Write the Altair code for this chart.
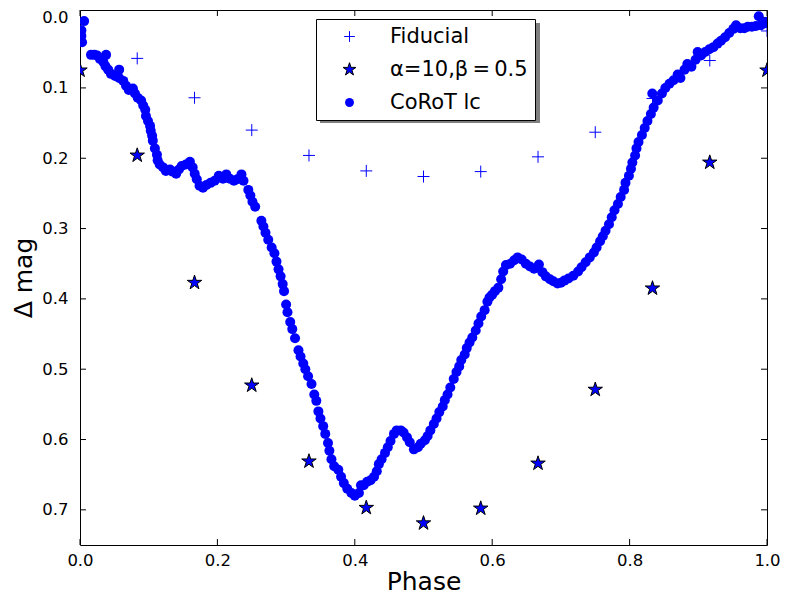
import altair as alt
import pandas as pd

# ---------------- data ----------------
series_names = ["Fiducial", "α=10,β\u2009=\u20090.5", "CoRoT lc"]

grid_phase = [0.0, 0.0833, 0.1667, 0.25, 0.3333, 0.4167, 0.5,
              0.5833, 0.6667, 0.75, 0.8333, 0.9167, 1.0]
fiducial_mag = [0.020, 0.058, 0.114, 0.160, 0.196, 0.218, 0.226,
                0.219, 0.198, 0.163, 0.115, 0.061, 0.019]
model_mag = [0.075, 0.196, 0.377, 0.523, 0.631, 0.697, 0.719,
             0.698, 0.634, 0.529, 0.385, 0.206, 0.075]

corot_phase = [
    0.006, 0.002, 0.002, 0.003, 0.016, 0.021, 0.025, 0.029, 0.034, 0.038,
    0.037, 0.041, 0.045, 0.051, 0.057, 0.057, 0.063, 0.067, 0.071, 0.077,
    0.080, 0.084, 0.089, 0.092, 0.095, 0.096, 0.099, 0.102, 0.103, 0.105,
    0.106, 0.109, 0.112, 0.113, 0.116, 0.121, 0.125, 0.131, 0.135, 0.140,
    0.144, 0.148, 0.154, 0.160, 0.164, 0.167, 0.170, 0.174, 0.179, 0.184,
    0.190, 0.196, 0.202, 0.208, 0.213, 0.218, 0.224, 0.229, 0.235, 0.238,
    0.245, 0.248, 0.251, 0.255, 0.264, 0.267, 0.270, 0.274, 0.279, 0.283,
    0.286, 0.289, 0.292, 0.295, 0.297, 0.300, 0.302, 0.306, 0.309, 0.313,
    0.318, 0.321, 0.325, 0.328, 0.332, 0.337, 0.341, 0.344, 0.347, 0.350,
    0.354, 0.357, 0.361, 0.363, 0.366, 0.370, 0.376, 0.380, 0.384, 0.389,
    0.395, 0.400, 0.406, 0.409, 0.413, 0.418, 0.423, 0.428, 0.432, 0.435,
    0.439, 0.444, 0.448, 0.452, 0.457, 0.461, 0.467, 0.471, 0.476, 0.480,
    0.486, 0.492, 0.496, 0.502, 0.506, 0.510, 0.515, 0.519, 0.523, 0.528,
    0.531, 0.535, 0.539, 0.544, 0.548, 0.552, 0.555, 0.560, 0.563, 0.567,
    0.571, 0.576, 0.580, 0.584, 0.589, 0.593, 0.596, 0.600, 0.604, 0.609,
    0.613, 0.616, 0.620, 0.626, 0.632, 0.637, 0.643, 0.649, 0.655, 0.661,
    0.668, 0.673, 0.678, 0.684, 0.689, 0.695, 0.700, 0.705, 0.711, 0.718,
    0.725, 0.730, 0.736, 0.742, 0.748, 0.752, 0.757, 0.761, 0.765, 0.770,
    0.774, 0.778, 0.783, 0.787, 0.792, 0.794, 0.799, 0.802, 0.804, 0.808,
    0.810, 0.813, 0.818, 0.822, 0.826, 0.831, 0.835, 0.833, 0.841, 0.847,
    0.852, 0.858, 0.864, 0.870, 0.874, 0.880, 0.884, 0.890, 0.896, 0.899,
    0.904, 0.910, 0.916, 0.922, 0.928, 0.933, 0.939, 0.945, 0.951, 0.955,
    0.961, 0.967, 0.972, 0.978, 0.984, 0.988, 0.991, 0.997, 1.000,
]
corot_mag = [
    0.005, 0.018, 0.026, 0.035, 0.053, 0.053, 0.054, 0.059, 0.063, 0.053,
    0.069, 0.074, 0.080, 0.083, 0.074, 0.086, 0.090, 0.097, 0.103, 0.101,
    0.108, 0.114, 0.118, 0.125, 0.131, 0.140, 0.147, 0.154, 0.161, 0.168,
    0.175, 0.186, 0.195, 0.203, 0.209, 0.213, 0.218, 0.216, 0.219, 0.222,
    0.216, 0.211, 0.209, 0.205, 0.213, 0.222, 0.230, 0.239, 0.242, 0.238,
    0.235, 0.232, 0.225, 0.229, 0.223, 0.229, 0.232, 0.230, 0.223, 0.232,
    0.245, 0.253, 0.262, 0.269, 0.289, 0.297, 0.306, 0.316, 0.327, 0.335,
    0.347, 0.358, 0.368, 0.379, 0.389, 0.408, 0.419, 0.433, 0.443, 0.456,
    0.473, 0.482, 0.492, 0.500, 0.510, 0.521, 0.536, 0.545, 0.560, 0.570,
    0.581, 0.592, 0.605, 0.616, 0.628, 0.638, 0.643, 0.653, 0.662, 0.670,
    0.676, 0.680, 0.676, 0.665, 0.665, 0.660, 0.658, 0.653, 0.645, 0.635,
    0.628, 0.619, 0.611, 0.602, 0.592, 0.587, 0.587, 0.590, 0.597, 0.604,
    0.614, 0.611, 0.606, 0.601, 0.595, 0.587, 0.578, 0.570, 0.561, 0.553,
    0.544, 0.536, 0.526, 0.514, 0.504, 0.496, 0.487, 0.479, 0.470, 0.462,
    0.455, 0.445, 0.435, 0.425, 0.416, 0.404, 0.398, 0.394, 0.389, 0.384,
    0.372, 0.361, 0.352, 0.350, 0.345, 0.341, 0.344, 0.350, 0.354, 0.357,
    0.351, 0.362, 0.368, 0.372, 0.375, 0.378, 0.377, 0.374, 0.371, 0.367,
    0.361, 0.355, 0.348, 0.341, 0.334, 0.327, 0.318, 0.311, 0.303, 0.294,
    0.284, 0.274, 0.265, 0.255, 0.245, 0.235, 0.225, 0.215, 0.206, 0.196,
    0.186, 0.177, 0.167, 0.157, 0.147, 0.137, 0.128, 0.108, 0.118, 0.108,
    0.100, 0.094, 0.089, 0.081, 0.086, 0.074, 0.066, 0.070, 0.060, 0.049,
    0.054, 0.049, 0.045, 0.042, 0.037, 0.033, 0.028, 0.022, 0.016, 0.011,
    0.015, 0.015, 0.013, 0.013, 0.012, -0.002, 0.011, 0.008, 0.006,
]

x_tick_values = [0.0, 0.2, 0.4, 0.6, 0.8, 1.0]
y_tick_values = [0.0, 0.1, 0.2, 0.3, 0.4, 0.5, 0.6, 0.7]

# ---------------- build table ----------------
rows = []
for p, m in zip(grid_phase, fiducial_mag):
    rows.append({"phase": p, "mag": m, "series": series_names[0]})
for p, m in zip(grid_phase, model_mag):
    rows.append({"phase": p, "mag": m, "series": series_names[1]})
for p, m in zip(corot_phase, corot_mag):
    rows.append({"phase": p, "mag": m, "series": series_names[2]})
df = pd.DataFrame(rows)

W, H = 687, 535
FONT = "DejaVu Sans"
BLUE = "#0000ff"
PLUS = "M-1.2,0H1.2M0,-1.2V1.2"
STAR = ("M0,-1.52L0.342,-0.47L1.446,-0.47L0.552,0.179L0.894,1.23L0,0.581"
        "L-0.894,1.23L-0.552,0.179L-1.446,-0.47L-0.342,-0.47Z")

xscale = alt.Scale(domain=[0, 1], nice=False, zero=False)
yscale = alt.Scale(domain=[-0.0108, 0.75], reverse=True, nice=False, zero=False)

xaxis = alt.Axis(values=x_tick_values, format=".1f", title="Phase", ticks=False,
                 domain=False, grid=False, labelFlush=False, labelOverlap=False,
                 labelPadding=7, titlePadding=1, labelFontSize=16.5,
                 titleFontSize=25, labelFont=FONT, titleFont=FONT,
                 titleFontWeight="normal", labelColor="black", titleColor="black")
yaxis = alt.Axis(values=y_tick_values, format=".1f", title="Δ mag", ticks=False,
                 domain=False, grid=False, labelFlush=False, labelOverlap=False,
                 labelPadding=12, titlePadding=5, labelFontSize=16.5,
                 titleFontSize=25, labelFont=FONT, titleFont=FONT,
                 titleFontWeight="normal", labelColor="black", titleColor="black")

points = alt.Chart(df).mark_point(
    size=100, opacity=1, fillOpacity=1, strokeOpacity=1, strokeWidth=1, clip=True
).encode(
    x=alt.X("phase:Q", scale=xscale, axis=xaxis),
    y=alt.Y("mag:Q", scale=yscale, axis=yaxis),
    shape=alt.Shape("series:N", title=None,
                    scale=alt.Scale(domain=series_names, range=[PLUS, STAR, "circle"])),
    fill=alt.Fill("series:N", title=None,
                  scale=alt.Scale(domain=series_names, range=[BLUE, BLUE, BLUE])),
    stroke=alt.Stroke("series:N", title=None,
                      scale=alt.Scale(domain=series_names,
                                      range=[BLUE, "#000000", "transparent"])),
)

xt = pd.DataFrame({"phase": x_tick_values})
yt = pd.DataFrame({"mag": y_tick_values})
TL = 6
xt_bottom = alt.Chart(xt).mark_rule(color="black", strokeWidth=1).encode(
    x=alt.X("phase:Q", scale=xscale, axis=xaxis), y=alt.value(H - TL), y2=alt.value(H))
xt_top = alt.Chart(xt).mark_rule(color="black", strokeWidth=1).encode(
    x=alt.X("phase:Q", scale=xscale, axis=xaxis), y=alt.value(0), y2=alt.value(TL))
yt_left = alt.Chart(yt).mark_rule(color="black", strokeWidth=1).encode(
    y=alt.Y("mag:Q", scale=yscale, axis=yaxis), x=alt.value(0), x2=alt.value(TL))
yt_right = alt.Chart(yt).mark_rule(color="black", strokeWidth=1).encode(
    y=alt.Y("mag:Q", scale=yscale, axis=yaxis), x=alt.value(W - TL), x2=alt.value(W))

shadow = alt.Chart(pd.DataFrame({"a": [0]})).mark_rect(color="#808080").encode(
    x=alt.value(240), x2=alt.value(460), y=alt.value(13), y2=alt.value(113))

chart = alt.layer(shadow, xt_bottom, xt_top, yt_left, yt_right, points).properties(
    width=W, height=H,
    autosize=alt.AutoSizeParams(type="none"),
    padding={"left": 72, "top": 2, "right": 14, "bottom": 51},
).configure_view(
    stroke="black", strokeWidth=1
).configure_legend(
    orient="none", legendX=236, legendY=9,
    fillColor="white", strokeColor="black", strokeWidth=1,
    padding=7, rowPadding=11, cornerRadius=0,
    labelFont=FONT, labelFontSize=21, labelColor="black",
    symbolSize=80, symbolStrokeWidth=1, symbolOffset=16, labelOffset=30,
)

chart.save("out.html", embed_options={"renderer": "svg", "actions": False})
